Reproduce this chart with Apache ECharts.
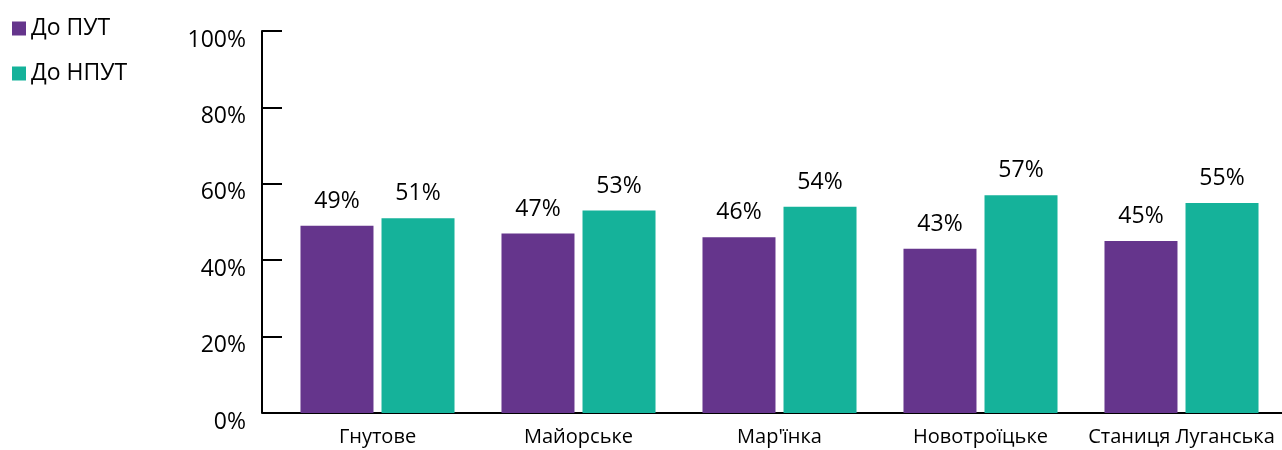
<!DOCTYPE html>
<html>
<head>
<meta charset="utf-8">
<script src="https://cdn.jsdelivr.net/npm/echarts@6/dist/echarts.min.js"></script>
<style>
html,body{margin:0;padding:0;background:#fff;}
#chart{width:1282px;height:450px;}
</style>
</head>
<body>
<div id="chart"></div>
<script>
const categories = ['Гнутове', 'Майорське', "Мар'їнка", 'Новотроїцьке', 'Станиця Луганська'];
const seriesNames = ['До ПУТ', 'До НПУТ'];
const valuesPUT = [49, 47, 46, 43, 45];
const valuesNPUT = [51, 53, 54, 57, 55];
const yTicks = [0, 20, 40, 60, 80, 100];

const FONT = '"Open Sans", sans-serif';
const chart = echarts.init(document.getElementById('chart'), null, {renderer: 'canvas'});
chart.setOption({
  animation: false,
  textStyle: {fontFamily: FONT, color: '#000'},
  legend: {
    orient: 'vertical', left: 7, top: 12,
    itemWidth: 14, itemHeight: 14, itemGap: 22,
    icon: 'rect',
    textStyle: {fontFamily: FONT, fontSize: 23, color: '#000', padding: [0, 0, 0, 0]},
    data: seriesNames
  },
  grid: {left: 277, width: 1006, top: 31, bottom: 37, containLabel: false},
  xAxis: {
    type: 'category', data: categories,
    axisLine: {lineStyle: {color: '#000', width: 2}},
    axisTick: {show: false},
    axisLabel: {interval: 0, fontFamily: FONT, fontSize: 20, color: '#000', margin: 14}
  },
  yAxis: {
    type: 'value', min: yTicks[0], max: yTicks[yTicks.length - 1], interval: 20,
    offset: 15,
    axisLine: {show: true, lineStyle: {color: '#000', width: 2}},
    axisTick: {show: true, inside: true, length: 20, lineStyle: {color: '#000', width: 2}},
    splitLine: {show: false},
    axisLabel: {fontFamily: FONT, fontSize: 23, color: '#000', margin: 16, verticalAlign: 'top', lineHeight: 18, formatter: '{value}%'}
  },
  series: [
    {
      name: seriesNames[0], type: 'bar', data: valuesPUT,
      barWidth: 73, barGap: '11%',
      itemStyle: {color: '#65358C'},
      label: {show: true, position: 'top', distance: 13, fontFamily: FONT, fontSize: 23, color: '#000', formatter: '{c}%'}
    },
    {
      name: seriesNames[1], type: 'bar', data: valuesNPUT,
      barWidth: 73,
      itemStyle: {color: '#15B29A'},
      label: {show: true, position: 'top', distance: 13, fontFamily: FONT, fontSize: 23, color: '#000', formatter: '{c}%'}
    }
  ]
});
</script>
</body>
</html>
